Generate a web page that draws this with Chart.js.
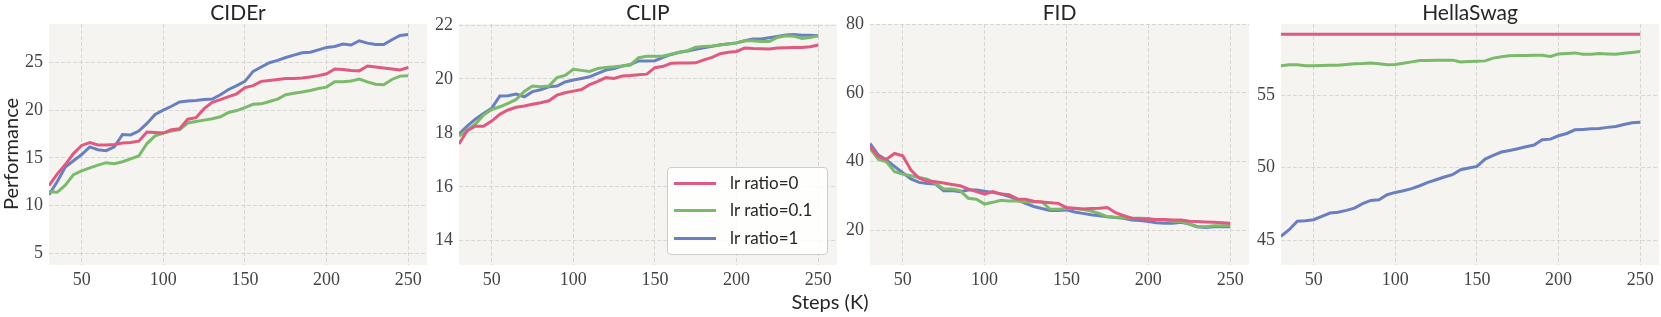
<!DOCTYPE html>
<html lang="en">
<head>
<meta charset="UTF-8" />
<title>lr ratio</title>
<script src="https://cdn.jsdelivr.net/npm/chart.js"></script>
</head>
<body style="margin:0; padding:0; background:white; width:1661px; height:317px; position:relative; overflow:hidden; font-family: Lato, sans-serif; color:#262626;">

<div id="wrap" style="position:absolute; left:0; top:0; width:1661px; height:317px;"></div>

<div style="position:absolute; left:-40px; top:148px; width:100px; text-align:center; transform:rotate(-90deg); font-size:20px;">Performance</div>
<div style="position:absolute; left:730px; top:289px; width:200px; text-align:center; font-size:20px;">Steps (K)</div>

<div style="position:absolute; left:667px; top:167px; width:159px; height:86px; border:1px solid #cccccc; border-radius:4px; background:rgba(255,255,255,0.85);">
  <div style="position:absolute; left:6px; top:14px; width:42px; height:3px; background:#e05a80;"></div>
  <div style="position:absolute; left:62px; top:4px; font-size:17px;">lr ratio=0</div>
  <div style="position:absolute; left:6px; top:41px; width:42px; height:3px; background:#7aba6a;"></div>
  <div style="position:absolute; left:62px; top:31px; font-size:17px;">lr ratio=0.1</div>
  <div style="position:absolute; left:6px; top:69px; width:42px; height:3px; background:#6a7fc0;"></div>
  <div style="position:absolute; left:62px; top:59px; font-size:17px;">lr ratio=1</div>
</div>

<script>
const steps = [30,35,40,45,50,55,60,65,70,75,80,85,90,95,100,105,110,115,120,125,130,135,140,145,150,155,160,165,170,175,180,185,190,195,200,205,210,215,220,225,230,235,240,245,250];
const xTicks = [50, 100, 150, 200, 250];

// CIDEr
const ciderR0 = [12.1,13.3,14.3,15.45,16.3,16.6,16.35,16.35,16.4,16.55,16.6,16.75,17.7,17.65,17.6,17.95,18.05,19.05,19.2,20.15,20.8,21.1,21.4,21.7,22.35,22.55,23.0,23.1,23.2,23.3,23.3,23.35,23.45,23.6,23.8,24.3,24.25,24.15,24.1,24.6,24.5,24.4,24.3,24.2,24.45];
const ciderR01 = [11.45,11.4,12.15,13.25,13.65,13.95,14.25,14.5,14.4,14.6,14.9,15.2,16.5,17.3,17.6,17.8,17.95,18.65,18.8,18.95,19.1,19.3,19.75,19.95,20.25,20.6,20.65,20.9,21.15,21.6,21.75,21.9,22.05,22.25,22.4,22.95,22.95,23.05,23.25,22.95,22.7,22.65,23.2,23.55,23.6];
const ciderR1 = [11.15,12.5,14.05,14.7,15.35,16.15,15.85,15.75,16.15,17.45,17.4,17.8,18.6,19.55,20.0,20.4,20.85,20.95,21.0,21.1,21.15,21.6,22.15,22.55,23.0,24.05,24.5,24.95,25.2,25.5,25.75,26.0,26.05,26.3,26.55,26.65,26.9,26.8,27.25,27.0,26.85,26.85,27.35,27.8,27.9];
const ciderTicks = [5, 10, 15, 20, 25];

// CLIP
const clipR0 = [17.59,18.08,18.25,18.25,18.44,18.69,18.85,18.95,19.0,19.06,19.12,19.19,19.4,19.49,19.55,19.61,19.79,19.91,20.05,20.02,20.11,20.13,20.16,20.18,20.42,20.47,20.58,20.59,20.59,20.6,20.71,20.8,20.94,20.99,21.02,21.15,21.13,21.12,21.11,21.15,21.16,21.17,21.17,21.2,21.26];
const clipR01 = [17.88,18.1,18.33,18.66,18.87,18.97,19.1,19.24,19.54,19.74,19.71,19.74,20.05,20.13,20.36,20.32,20.28,20.39,20.43,20.45,20.48,20.52,20.79,20.84,20.84,20.85,20.92,20.99,21.05,21.18,21.21,21.22,21.26,21.31,21.34,21.42,21.42,21.39,21.39,21.54,21.6,21.59,21.5,21.54,21.6];
const clipR1 = [17.96,18.25,18.51,18.72,18.91,19.37,19.38,19.44,19.34,19.53,19.6,19.71,19.74,19.89,19.96,20.02,20.08,20.21,20.33,20.39,20.48,20.54,20.67,20.67,20.68,20.8,20.91,20.99,21.04,21.1,21.16,21.21,21.27,21.3,21.34,21.42,21.48,21.48,21.53,21.58,21.63,21.65,21.62,21.62,21.6];
const clipTicks = [14, 16, 18, 20, 22];

// FID
const fidR0 = [44.4,41.5,40.7,42.4,41.7,37.6,35.2,34.4,34.2,33.8,33.4,33.0,32.1,31.3,30.6,31.3,30.6,30.4,29.2,29.1,28.5,28.3,28.1,27.9,26.7,26.5,26.3,26.4,26.5,26.7,25.2,24.3,23.6,23.4,23.3,23.2,23.2,23.1,23.1,22.7,22.6,22.5,22.4,22.3,22.1];
const fidR01 = [43.9,40.7,40.0,37.1,36.4,35.9,35.4,34.9,33.7,32.1,32.1,31.6,29.4,29.1,27.7,28.2,28.8,28.6,28.6,28.4,28.3,28.3,26.2,26.2,26.4,26.4,26.2,25.7,25.0,24.0,23.9,23.8,23.6,23.6,23.5,23.1,23.1,22.7,22.6,21.9,21.1,21.1,21.4,21.4,21.5];
const fidR1 = [45.3,42.0,40.5,38.6,36.8,35.0,34.0,33.7,33.5,31.6,31.6,31.3,31.8,31.8,31.4,31.1,30.6,29.9,28.9,27.9,27.0,26.4,25.8,25.8,26.0,25.4,25.0,24.6,24.3,24.0,23.8,23.6,23.1,22.9,22.6,22.3,22.1,22.1,22.4,21.9,21.1,20.9,21.1,21.2,21.1];
const fidTicks = [20, 40, 60, 80];

// HellaSwag
const hellaR0 = [59.2,59.2,59.2,59.2,59.2,59.2,59.2,59.2,59.2,59.2,59.2,59.2,59.2,59.2,59.2,59.2,59.2,59.2,59.2,59.2,59.2,59.2,59.2,59.2,59.2,59.2,59.2,59.2,59.2,59.2,59.2,59.2,59.2,59.2,59.2,59.2,59.2,59.2,59.2,59.2,59.2,59.2,59.2,59.2,59.2];
const hellaR01 = [57.02,57.09,57.09,57.02,57.02,57.04,57.06,57.06,57.11,57.16,57.18,57.22,57.16,57.09,57.11,57.2,57.29,57.39,57.39,57.41,57.41,57.41,57.29,57.32,57.34,57.36,57.55,57.64,57.71,57.73,57.73,57.75,57.75,57.66,57.84,57.87,57.91,57.82,57.82,57.87,57.84,57.82,57.89,57.94,58.0];
const hellaR1 = [45.28,45.73,46.31,46.35,46.42,46.65,46.88,46.93,47.06,47.22,47.52,47.75,47.8,48.14,48.3,48.42,48.56,48.76,48.99,49.17,49.36,49.52,49.86,49.98,50.09,50.6,50.85,51.08,51.19,51.31,51.44,51.56,51.93,51.97,52.2,52.36,52.61,52.64,52.68,52.71,52.78,52.84,52.98,53.1,53.14];
const hellaTicks = [45, 50, 55];

const RED = '#e05a80', GREEN = '#7aba6a', BLUE = '#6a7fc0';

const panels = [
  { title: 'CIDEr', left: 49, width: 378, ymin: 3.8, ymax: 29, yticks: ciderTicks, data: [ciderR0, ciderR01, ciderR1] },
  { title: 'CLIP', left: 459, width: 378, ymin: 13.1, ymax: 22.04, yticks: clipTicks, data: [clipR0, clipR01, clipR1] },
  { title: 'FID', left: 870, width: 379, ymin: 10, ymax: 80, yticks: fidTicks, data: [fidR0, fidR01, fidR1] },
  { title: 'HellaSwag', left: 1281, width: 378, ymin: 43.3, ymax: 59.9, yticks: hellaTicks, data: [hellaR0, hellaR01, hellaR1] }
];

const bgPlugin = {
  id: 'bg',
  beforeDraw(chart) {
    const a = chart.chartArea, c = chart.ctx;
    c.save();
    c.fillStyle = '#f5f4f0';
    c.fillRect(a.left, a.top, a.right - a.left, a.bottom - a.top);
    c.restore();
  }
};

const wrap = document.getElementById('wrap');
const YW = 45, PADR = 2, TOP = 24, PLOTH = 241, XH = 28;

panels.forEach(function(p) {
  var box = document.createElement('div');
  box.style.cssText = 'position:absolute; top:0; left:' + (p.left - YW) + 'px;';
  var cv = document.createElement('canvas');
  var w = YW + p.width + PADR, h = TOP + PLOTH + XH;
  cv.width = w; cv.height = h;
  cv.style.width = w + 'px'; cv.style.height = h + 'px';
  box.appendChild(cv);
  wrap.appendChild(box);

  var t = document.createElement('div');
  t.textContent = p.title;
  t.style.cssText = 'position:absolute; top:0px; left:' + p.left + 'px; width:' + p.width + 'px; text-align:center; font-size:21px; line-height:24px;';
  wrap.appendChild(t);

  var tickFont = { family: "'Liberation Serif', serif", size: 18 };
  new Chart(cv.getContext('2d'), {
    type: 'line',
    data: {
      datasets: [
        { label: 'lr ratio=0', data: steps.map((s, i) => ({ x: s, y: p.data[0][i] })), borderColor: RED },
        { label: 'lr ratio=0.1', data: steps.map((s, i) => ({ x: s, y: p.data[1][i] })), borderColor: GREEN },
        { label: 'lr ratio=1', data: steps.map((s, i) => ({ x: s, y: p.data[2][i] })), borderColor: BLUE }
      ].map(d => Object.assign(d, { borderWidth: 3, pointRadius: 0, tension: 0, fill: false }))
    },
    options: {
      responsive: false,
      animation: false,
      layout: { padding: { top: TOP, right: PADR, left: 0, bottom: 0 } },
      plugins: { legend: { display: false }, tooltip: { enabled: false } },
      scales: {
        x: {
          type: 'linear', min: 30, max: 261.5,
          afterBuildTicks: s => { s.ticks = xTicks.map(v => ({ value: v })); },
          afterFit: s => { s.height = XH; },
          ticks: { color: '#444', font: tickFont, padding: 4, maxRotation: 0 },
          grid: { color: '#cfcfcf', lineWidth: 0.8, drawTicks: false },
          border: { display: false, dash: [4, 2] }
        },
        y: {
          min: p.ymin, max: p.ymax,
          afterBuildTicks: s => { s.ticks = p.yticks.map(v => ({ value: v })); },
          afterFit: s => { s.width = YW; },
          ticks: { color: '#444', font: tickFont, padding: 6 },
          grid: { color: '#cfcfcf', lineWidth: 0.8, drawTicks: false },
          border: { display: false, dash: [4, 2] }
        }
      }
    },
    plugins: [bgPlugin]
  });
});
</script>
</body>
</html>
